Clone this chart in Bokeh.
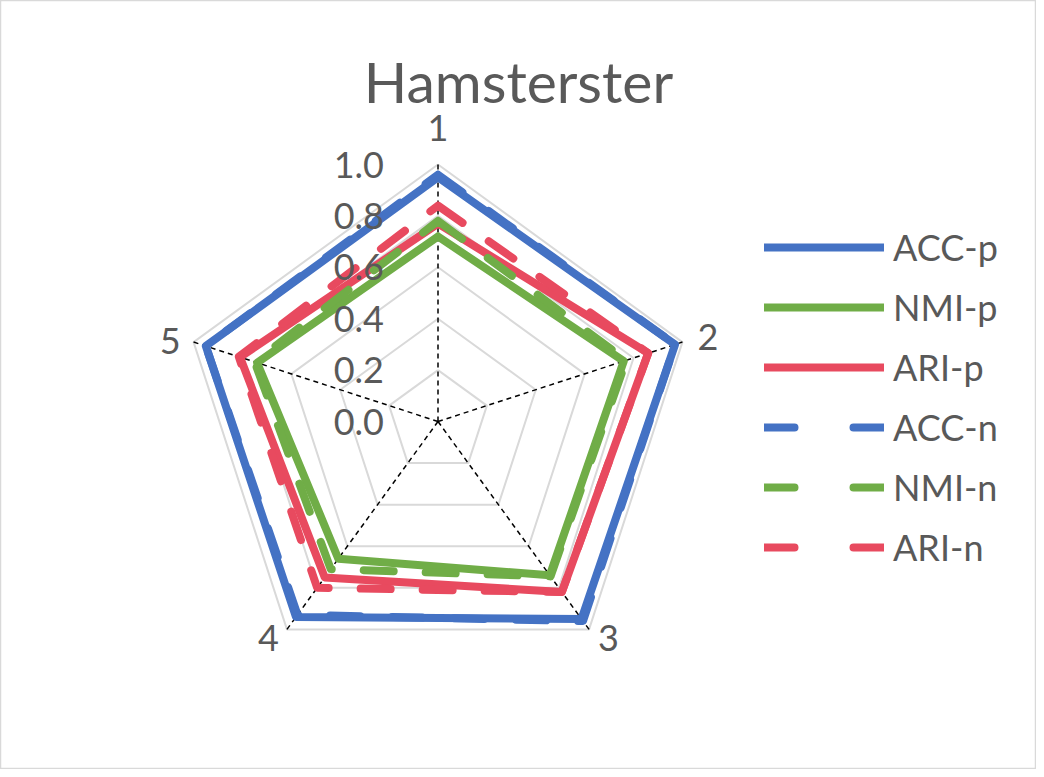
import numpy as np
from bokeh.plotting import figure
from bokeh.models import Range1d, Legend, LegendItem, ColumnDataSource
from bokeh.core.properties import value
from bokeh.embed import file_html
from bokeh.resources import INLINE

# ---------------- data ----------------
title_text = "Hamsterster"
categories = ["1", "2", "3", "4", "5"]
tick_values = [0.0, 0.2, 0.4, 0.6, 0.8, 1.0]
tick_labels = ["0.0", "0.2", "0.4", "0.6", "0.8", "1.0"]

series_names = ["ACC-p", "NMI-p", "ARI-p", "ACC-n", "NMI-n", "ARI-n"]
acc_p = [0.95, 0.97, 0.95, 0.94, 0.95]
nmi_p = [0.72, 0.76, 0.74, 0.66, 0.74]
ari_p = [0.77, 0.86, 0.82, 0.75, 0.81]
acc_n = [0.96, 0.97, 0.96, 0.93, 0.95]
nmi_n = [0.78, 0.77, 0.745, 0.71, 0.75]
ari_n = [0.84, 0.86, 0.82, 0.80, 0.815]
series_values = [acc_p, nmi_p, ari_p, acc_n, nmi_n, ari_n]

# ---------------- style ----------------
colors = ["#4472C4", "#70AD47", "#E84A5F", "#4472C4", "#70AD47", "#E84A5F"]
dashes = ["solid", "solid", "solid", "30 32", "30 32", "30 32"]
legend_dashes = ["solid", "solid", "solid", "30 59", "30 59", "30 59"]
text_color = "#595959"
font = value("Lato")

W, H = 1036, 769
scale = 257.0            # pixels per unit radius
cx_px, cy_px = 437.5, 421.0

p = figure(width=W, height=H, output_backend="svg", toolbar_location=None,
           x_axis_type=None, y_axis_type=None, min_border=0,
           x_range=Range1d(-cx_px / scale, (W - cx_px) / scale),
           y_range=Range1d(-(H - cy_px) / scale, cy_px / scale))
p.min_border_left = p.min_border_right = p.min_border_top = p.min_border_bottom = 0
p.grid.visible = False
p.outline_line_color = "#D9D9D9"
p.outline_line_width = 1.5
p.background_fill_color = "white"
p.border_fill_color = "white"

n = len(categories)
ang = np.pi / 2 - 2 * np.pi * np.arange(n) / n
ca, sa = np.cos(ang), np.sin(ang)

# grid pentagons
for t in tick_values[1:]:
    xs = list(t * ca) + [t * ca[0]]
    ys = list(t * sa) + [t * sa[0]]
    p.line(xs, ys, line_color="#D9D9D9", line_width=2)

# spokes
p.segment(x0=[0] * n, y0=[0] * n, x1=list(ca), y1=list(sa),
          line_color="black", line_width=1.5, line_dash="5 4")

# series
for name, vals, c, d in zip(series_names, series_values, colors, dashes):
    v = np.array(vals)
    xs = list(v * ca) + [v[0] * ca[0]]
    ys = list(v * sa) + [v[0] * sa[0]]
    p.line(xs, ys, line_color=c, line_width=8, line_dash=d,
           line_join="round", line_cap="round")

# radial tick labels
p.text(x=[0] * len(tick_values), y=tick_values, text=tick_labels,
       x_offset=-54, text_align="right", text_baseline="middle",
       text_font=font, text_font_size="36px", text_color=text_color)

# category labels
cat_src = ColumnDataSource(dict(
    x=list(ca), y=list(sa), text=categories,
    align=["center", "left", "left", "right", "right"],
    xo=[0, 15, 9, -8, -13],
    yo=[-37, -5, 9, 9, -1],
))
p.text(x="x", y="y", text="text", source=cat_src, text_align="align",
       x_offset="xo", y_offset="yo", text_baseline="middle",
       text_font=font, text_font_size="36px", text_color=text_color)

# title
p.text(x=[(518 - cx_px) / scale], y=[(cy_px - 80) / scale], text=[title_text],
       text_align="center", text_baseline="middle",
       text_font=font, text_font_size="57px", text_color=text_color)

# legend (style-only renderers, nothing drawn in the plot area)
items = []
for name, c, d in zip(series_names, colors, legend_dashes):
    r = p.line(x=[np.nan, np.nan], y=[np.nan, np.nan], line_color=c,
               line_width=8, line_dash=d, line_cap="round", line_join="round")
    items.append(LegendItem(label=name, renderers=[r]))

legend = Legend(items=items, location=(764, H - 569), orientation="vertical",
                glyph_width=120, glyph_height=40, label_height=40,
                spacing=16, label_standoff=9, padding=0, margin=0,
                border_line_color=None, background_fill_alpha=0,
                label_text_font="Lato", label_text_font_size="36px",
                label_text_color=text_color, label_text_baseline="middle")
p.add_layout(legend, "center")

open("out.html", "w").write(file_html(p, INLINE))
